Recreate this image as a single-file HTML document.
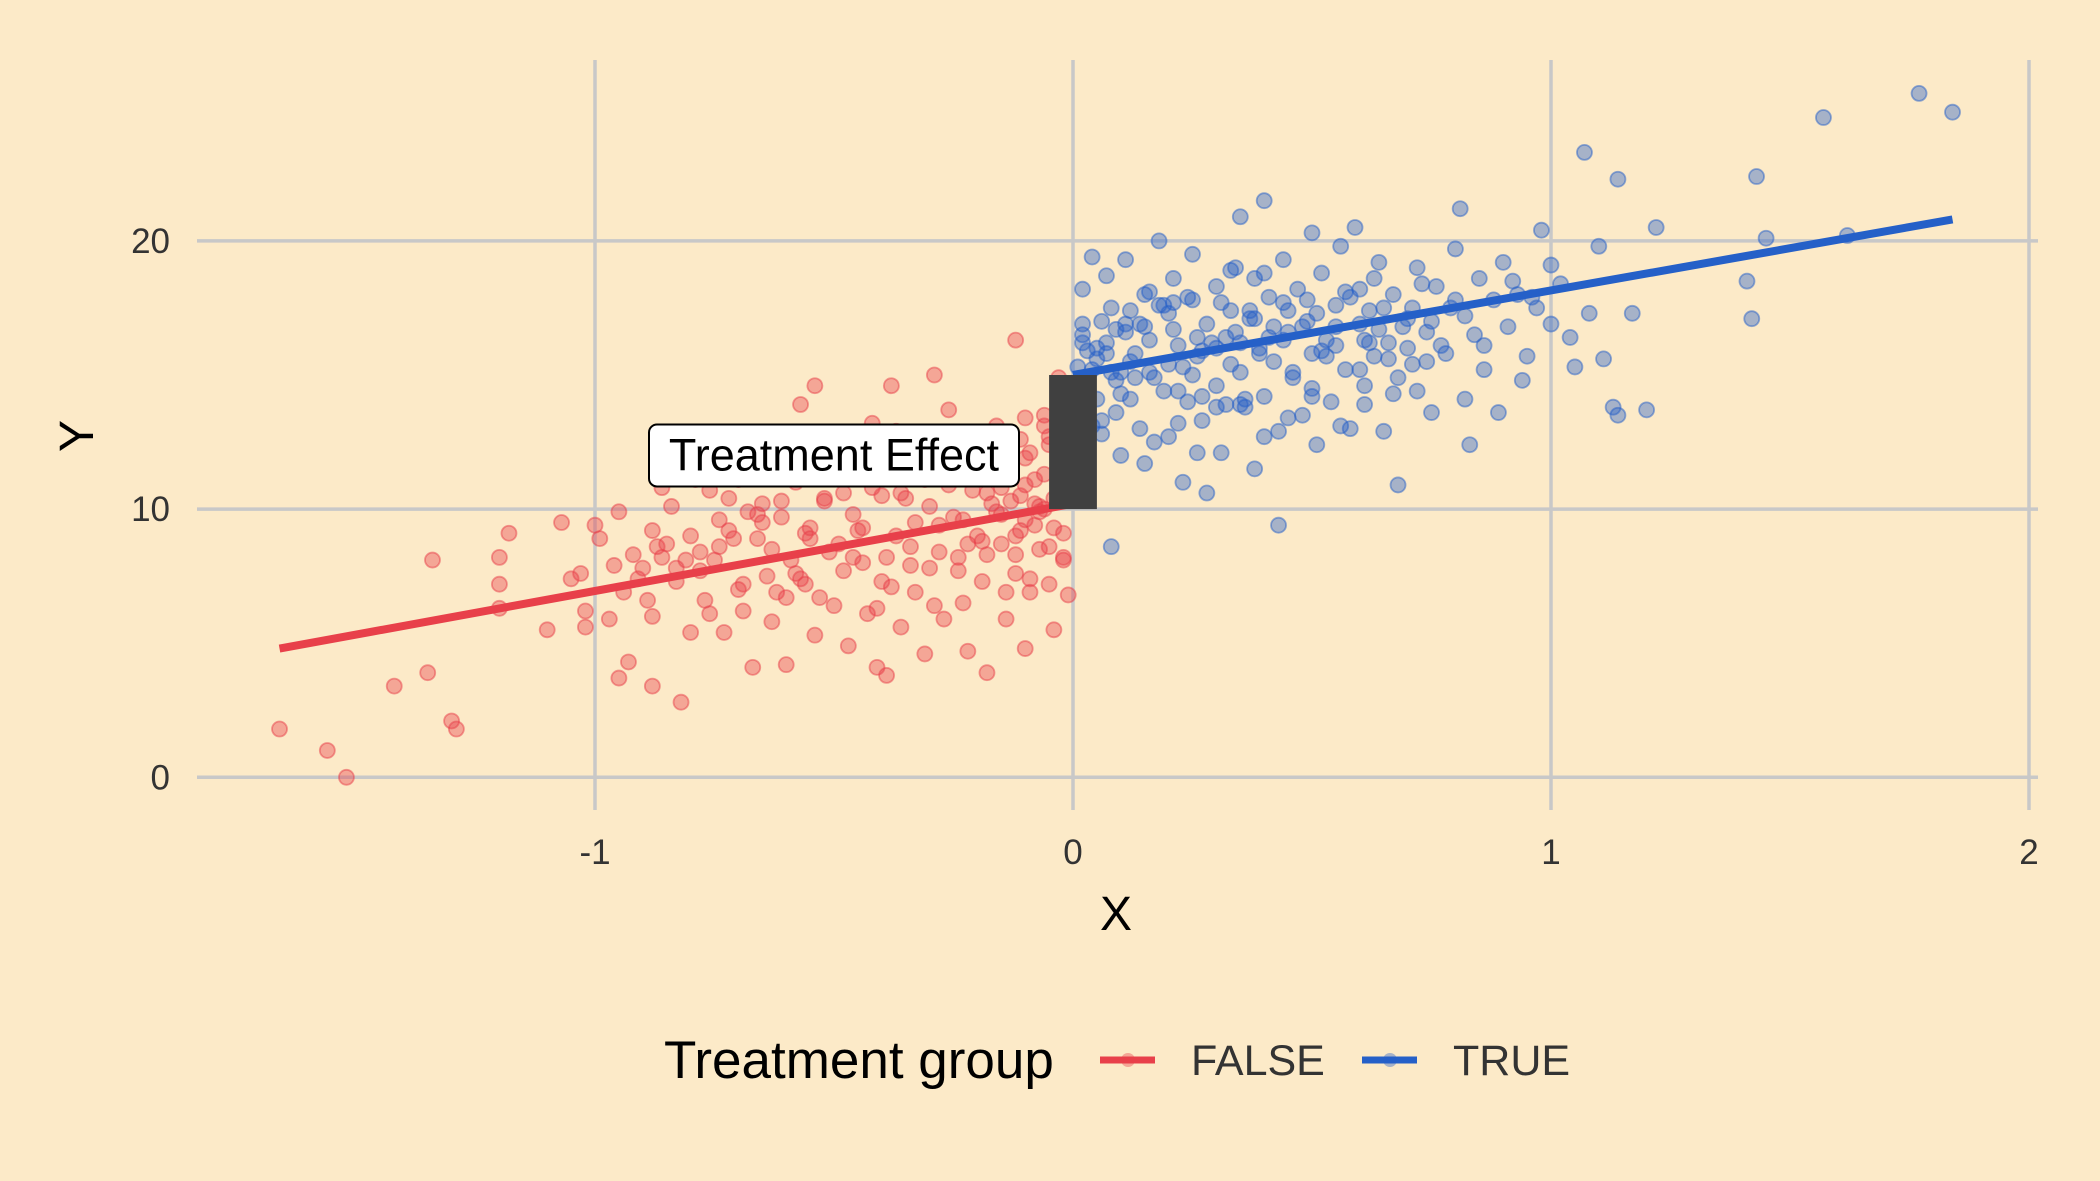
<!DOCTYPE html>
<html><head><meta charset="utf-8"><style>
html,body{margin:0;padding:0;background:#FCEAC8;}
svg{display:block;font-family:"Liberation Sans",sans-serif;}
</style></head><body>
<svg id="chart" width="2100" height="1181" viewBox="0 0 2100 1181" xmlns="http://www.w3.org/2000/svg">
<rect x="0" y="0" width="2100" height="1181" fill="#FCEAC8"/>
<g id="grid"></g>
<g id="ticks"></g>
<g id="pts"></g>
<g id="lines"></g>
<g id="anno"></g>
<text x="1116" y="930" font-size="48" text-anchor="middle" fill="#000">X</text>
<text x="0" y="0" font-size="48" text-anchor="middle" fill="#000" transform="translate(93,436) rotate(-90)">Y</text>
<g>
<text x="664" y="1078" font-size="53" fill="#000">Treatment group</text>
<g>
<line x1="1100" y1="1060" x2="1155" y2="1060" stroke="#E8404A" stroke-width="7"/>
<circle cx="1128" cy="1060" r="7" fill="#E8404A" fill-opacity="0.4"/>
<text x="1191" y="1075" font-size="43" fill="#333">FALSE</text>
</g>
<g>
<line x1="1362" y1="1060" x2="1417" y2="1060" stroke="#2560C8" stroke-width="7"/>
<circle cx="1390" cy="1060" r="7" fill="#2560C8" fill-opacity="0.4"/>
<text x="1453" y="1075" font-size="43" fill="#333">TRUE</text>
</g>
</g>
</svg>
<script>
const xTicks=[-1,0,1,2];
const yTicks=[0,10,20];
const redX=[-1.66,-1.56,-1.52,-1.42,-1.35,-1.3,-1.29,-1.34,-1.2,-1.2,-1.18,-1.2,-1.1,-1.07,-1.05,-1.03,-1.02,-1.02,-1,-0.97,-0.95,-0.95,-0.93,-0.92,-0.9,-0.88,-0.88,-0.86,-0.84,-0.83,-0.82,-0.8,-0.8,-0.78,-0.77,-0.76,-0.74,-0.73,-0.72,-0.7,-0.7,-0.69,-0.67,-0.66,-0.65,-0.64,-0.63,-0.62,-0.61,-0.6,-0.6,-0.59,-0.58,-0.57,-0.56,-0.55,-0.54,-0.54,-0.52,-0.51,-0.5,-0.5,-0.48,-0.47,-0.46,-0.45,-0.44,-0.43,-0.42,-0.41,-0.4,-0.4,-0.39,-0.38,-0.37,-0.36,-0.35,-0.34,-0.33,-0.32,-0.31,-0.3,-0.3,-0.29,-0.28,-0.27,-0.26,-0.25,-0.24,-0.23,-0.22,-0.21,-0.2,-0.2,-0.19,-0.18,-0.17,-0.16,-0.15,-0.14,-0.13,-0.12,-0.12,-0.11,-0.1,-0.1,-0.09,-0.08,-0.07,-0.06,-0.06,-0.05,-0.04,-0.03,-0.03,-0.02,-0.02,-0.01,-0.01,-0.04,-0.07,-0.15,-0.25,-0.35,-0.45,-0.55,-0.65,-0.75,-0.85,-0.3,-0.2,-0.1,-0.05,-0.15,-0.22,-0.38,-0.48,-0.58,-0.68,-0.78,-0.88,-0.96,-0.12,-0.08,
-0.02,-0.04,-0.06,-0.08,-0.1,-0.12,-0.14,-0.16,-0.18,-0.03,-0.05,-0.07,-0.09,-0.11,-0.13,-0.17,-0.19,-0.21,-0.23,-0.26,-0.28,-0.31,-0.33,-0.36,-0.39,-0.42,-0.44,-0.47,-0.49,-0.52,-0.56,-0.61,-0.63,-0.66,-0.71,-0.74,-0.81,-0.87,-0.91,-0.99,-0.01,-0.02,-0.05,-0.09,-0.11,-0.14,-0.18,-0.24,-0.29,-0.34,-0.41,-0.46,-0.53,-0.57,-0.62,-0.69,-0.76,-0.83,-0.89,-0.94,-0.03,-0.06,-0.1,-0.16,-0.2,-0.27,-0.32,-0.37,-0.43,-0.5,-0.59,-0.64,-0.72,-0.79,-0.86];
const redY=[1.8,1,0,3.4,3.9,2.1,1.8,8.1,7.2,8.2,9.1,6.3,5.5,9.5,7.4,7.6,5.6,6.2,9.4,5.9,3.7,9.9,4.3,8.3,7.8,3.4,6,8.2,10.1,7.3,2.8,5.4,9,7.7,6.6,10.7,8.6,5.4,9.2,7,11.1,6.2,4.1,8.9,10.2,7.5,5.8,12.2,9.7,6.7,4.2,8.1,11,13.9,7.2,9.3,14.6,5.3,10.3,8.4,6.4,12.6,7.7,4.9,9.8,11.5,8,6.1,13.2,4.1,10.5,7.3,3.8,14.6,9,5.6,11.9,8.6,6.9,12.8,4.6,10.1,7.8,15,9.4,5.9,13.7,11.2,8.2,6.5,4.7,10.7,12.1,9,7.3,3.9,11.6,13.1,8.7,5.9,10.3,16.3,7.6,12.6,9.6,4.8,6.9,11.1,8.5,13.5,10,7.2,9.3,14.9,11.7,8.2,10.6,12.2,6.8,5.5,9.9,10.8,9.7,10.4,9.2,8.9,9.5,8.1,8.7,11.6,11.3,11.9,12.7,9.8,8.7,7.1,10.6,7.6,9.9,8.4,9.2,7.9,9,10.2,
9.1,10.4,11.3,9.4,10.9,8.3,11.9,9.9,10.6,12.9,8.6,10.1,12.1,9.2,11.4,10.2,8.8,11.8,9.6,10.9,8.4,11.1,9.5,10.6,8.2,10.8,9.3,11.2,8.7,10.4,9.1,10.3,8.5,9.8,8.9,9.6,8.1,8.6,7.4,8.9,11.6,8.1,12.4,7.4,10.5,6.9,8.3,7.7,6.4,7.9,6.3,8.2,6.7,7.4,6.9,7.2,6.1,7.8,6.6,6.9,13.8,13.1,13.4,12.8,12.5,11.8,12.3,12.9,11.9,11.2,11.6,12.1,10.4,11.1,10.8];
const blueX=[0.02,0.02,0.03,0.03,0.04,0.05,0.06,0.06,0.07,0.08,0.08,0.09,0.1,0.1,0.11,0.12,0.13,0.14,0.15,0.15,0.16,0.17,0.18,0.19,0.2,0.2,0.21,0.22,0.23,0.24,0.25,0.25,0.26,0.27,0.28,0.28,0.3,0.3,0.31,0.32,0.33,0.34,0.35,0.35,0.36,0.37,0.38,0.38,0.39,0.4,0.4,0.41,0.42,0.43,0.43,0.44,0.45,0.46,0.47,0.48,0.49,0.5,0.5,0.51,0.52,0.53,0.54,0.55,0.56,0.57,0.58,0.59,0.6,0.6,0.61,0.62,0.63,0.64,0.65,0.66,0.67,0.68,0.68,0.7,0.71,0.72,0.74,0.75,0.76,0.78,0.79,0.8,0.81,0.82,0.83,0.84,0.85,0.86,0.88,0.89,0.9,0.91,0.93,0.94,0.95,0.97,0.98,1,1.02,1.04,1.05,1.07,1.08,1.1,1.11,1.13,1.14,1.14,1.17,1.2,1.22,1.41,1.43,1.42,1.45,1.57,1.62,1.77,1.84,0.15,0.25,0.35,0.45,0.55,0.65,0.75,0.2,0.3,0.4,0.5,0.6,0.7,0.12,0.22,0.32,0.42,0.52,0.62,0.72,0.82,0.92,1,0.05,0.08,0.1,0.03,
0.01,0.02,0.04,0.05,0.07,0.09,0.11,0.13,0.14,0.16,0.18,0.19,0.21,0.23,0.24,0.26,0.27,0.29,0.31,0.33,0.34,0.36,0.37,0.39,0.41,0.44,0.46,0.48,0.51,0.53,0.55,0.58,0.61,0.63,0.66,0.69,0.71,0.73,0.77,0.8,0.04,0.06,0.09,0.12,0.17,0.22,0.26,0.3,0.35,0.4,0.45,0.5,0.56,0.61,0.67,0.74,0.86,0.96,0.02,0.07,0.11,0.16,0.21,0.27,0.33,0.38,0.44,0.49,0.57,0.64];
const blueY=[18.2,16.5,14.7,12.4,19.4,15.6,17,13.3,18.7,15.1,8.6,16.7,12,14.3,19.3,17.4,15.8,13,18,11.7,16.3,14.9,20,17.6,15.4,12.7,18.6,16.1,11,14,17.8,19.5,15.7,13.3,16.9,10.6,18.3,14.6,12.1,16.4,17.4,19,15.1,20.9,13.8,17.1,18.6,11.5,16,14.2,21.5,17.9,15.5,9.4,12.9,19.3,16.6,14.9,18.2,13.5,17,20.3,15.8,12.4,18.8,16.3,14,17.6,19.8,15.2,13,20.5,16.9,18.2,14.6,17.4,15.7,19.2,12.9,16.2,18,10.9,14.9,17.1,15.4,19,16.6,13.6,18.3,15.8,17.5,19.7,21.2,14.1,12.4,16.5,18.6,15.2,17.8,13.6,19.2,16.8,18,14.8,15.7,17.5,20.4,19.1,18.4,16.4,15.3,23.3,17.3,19.8,15.6,13.8,22.3,13.5,17.3,13.7,20.5,18.5,22.4,17.1,20.1,24.6,20.2,25.5,24.8,16.8,15,16.2,17.4,16.8,17.5,17,17.3,16,18.8,14.5,15.2,16,15.5,14.4,13.9,16.8,15.9,16.2,14.4,17.2,18.5,16.9,16,17.5,15.1,15.9,
15.3,16.9,15.2,14.1,16.2,14.8,16.6,14.9,16.9,15.1,17.6,14.4,16.7,15.3,17.9,16.4,14.2,16.2,17.7,15.4,16.6,14.1,17.4,15.8,16.4,17.7,15.1,16.8,17.3,15.7,16.1,17.9,16.3,18.6,15.6,16.8,17.5,18.4,16.1,17.8,13.1,12.8,13.6,14.1,12.5,13.2,12.1,13.8,13.9,12.7,13.4,14.2,13.1,13.9,14.3,15.5,16.1,17.9,16.2,15.8,16.9,18.1,17.7,15.9,18.9,17.1,16.3,17.8,18.1,16.7];
const redLineX=[-1.66,0];
const redLineY=[4.8,10.2];
const blueLineX=[0,1.84];
const blueLineY=[15,20.8];
const effectX=[-0.05,0.05];
const effectY=[10,15];
const labelPos=[-0.5,12];

const sx=v=>1073+v*478;
const sy=v=>777.3-v*26.82;
const NS="http://www.w3.org/2000/svg";
function mk(t,a,p){const e=document.createElementNS(NS,t);for(const k in a)e.setAttribute(k,a[k]);p.appendChild(e);return e;}
const grid=document.getElementById('grid'),ticks=document.getElementById('ticks');
yTicks.forEach(v=>{
 const l=mk('line',{x1:197,x2:2038,y1:sy(v),y2:sy(v),stroke:'#C8C8C8','stroke-width':3.5},grid);
 
 
 const t=mk('text',{x:170,y:sy(v)+12,'font-size':35,'text-anchor':'end',fill:'#333'},ticks);
 t.textContent=v;
 
 
});
xTicks.forEach(v=>{
 const l=mk('line',{x1:sx(v),x2:sx(v),y1:60,y2:810,stroke:'#C8C8C8','stroke-width':3.5},grid);
 
 
 const t=mk('text',{x:sx(v),y:864,'font-size':35,'text-anchor':'middle',fill:'#333'},ticks);
 t.textContent=v;
 
 
});
const pts=document.getElementById('pts');
redX.forEach((x,i)=>{
 const c=mk('circle',{cx:sx(x),cy:sy(redY[i]),r:7.5,fill:'#E8404A','fill-opacity':0.4,stroke:'#E8404A','stroke-opacity':0.5,'stroke-width':1.8},pts);
 
 
});
blueX.forEach((x,i)=>{
 const c=mk('circle',{cx:sx(x),cy:sy(blueY[i]),r:7.5,fill:'#2560C8','fill-opacity':0.4,stroke:'#2560C8','stroke-opacity':0.5,'stroke-width':1.8},pts);
 
 
});
const lines=document.getElementById('lines');
const rl=mk('line',{x1:sx(redLineX[0]),y1:sy(redLineY[0]),x2:sx(redLineX[1]),y2:sy(redLineY[1]),stroke:'#E8404A','stroke-width':8},lines);


const bl=mk('line',{x1:sx(blueLineX[0]),y1:sy(blueLineY[0]),x2:sx(blueLineX[1]),y2:sy(blueLineY[1]),stroke:'#2560C8','stroke-width':8},lines);


const anno=document.getElementById('anno');
const r=mk('rect',{x:sx(effectX[0]),y:sy(effectY[1]),width:sx(effectX[1])-sx(effectX[0]),height:sy(effectY[0])-sy(effectY[1]),fill:'#404040'},anno);


const lx=sx(labelPos[0]),ly=sy(labelPos[1]);
const b=mk('rect',{x:lx-185,y:ly-31,width:370,height:62,rx:8,fill:'#fff',stroke:'#000','stroke-width':2},anno);


const lt=mk('text',{x:lx,y:ly+15,'font-size':45,'text-anchor':'middle',fill:'#000'},anno);
lt.textContent='Treatment Effect';


</script>
</body></html>
